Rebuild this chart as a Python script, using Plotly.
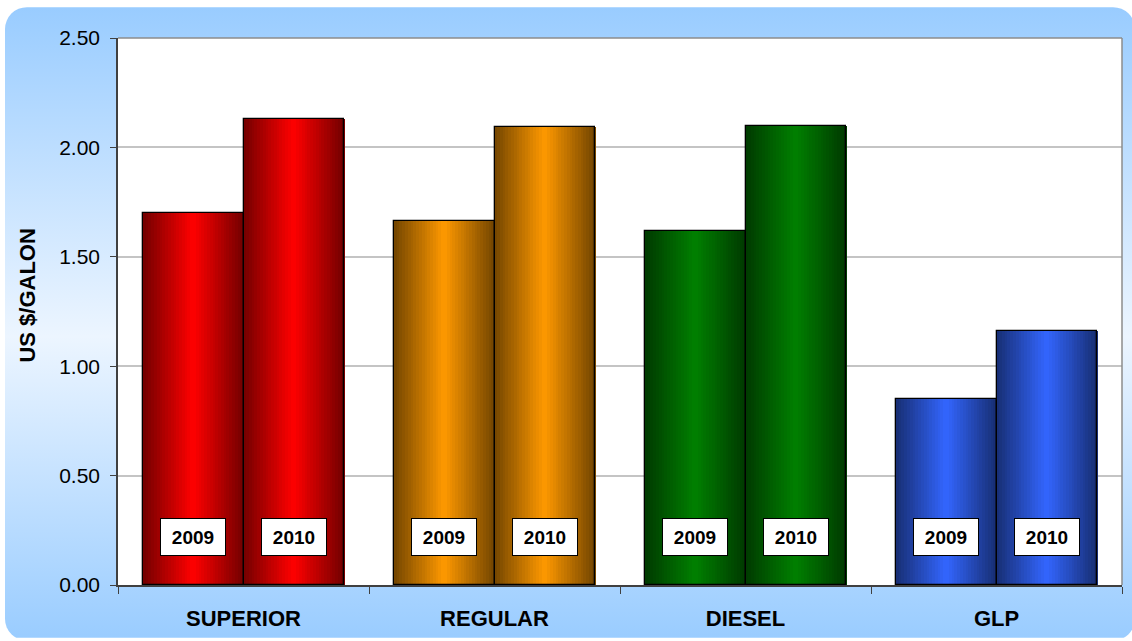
import base64
import plotly.graph_objects as go

# ---------------- data ----------------
categories = ["SUPERIOR", "REGULAR", "DIESEL", "GLP"]
years = ["2009", "2010"]
values_2009 = [1.70, 1.665, 1.62, 0.848]
values_2010 = [2.128, 2.092, 2.10, 1.162]
y_ticks = [0.0, 0.5, 1.0, 1.5, 2.0, 2.5]
y_title = "US $/GALON"
label_level = 0.22

# ---------------- style ----------------
W, H = 1132, 641
ML, MR, MT, MB = 118, 10, 38, 53
PW, PH = W - ML - MR, H - MT - MB
bright = [(255, 0, 0), (255, 153, 0), (0, 128, 0), (51, 102, 255)]
DARK_F = 0.45
N = 36
HALF = 0.4
FONT = "Arial, Liberation Sans, sans-serif"


def shade(rgb, t):
    g = 1 - abs(2 * t - 1)
    f = DARK_F + (1 - DARK_F) * g
    r, gg, b = (int(round(c * f)) for c in rgb)
    return f"rgb({r},{gg},{b})"


fig = go.Figure()
series = [values_2009, values_2010]
offsets = [-HALF, 0.0]
for vals, off in zip(series, offsets):
    sw = HALF / N
    for i in range(N):
        t = (i + 0.5) / N
        fig.add_trace(go.Bar(
            x=categories, y=vals,
            width=sw * 1.35, offset=off + i * sw - sw * 0.1,
            marker=dict(color=[shade(c, t) for c in bright], line=dict(width=0)),
            showlegend=False, hoverinfo="skip",
        ))
    fig.add_trace(go.Bar(
        x=categories, y=vals, width=HALF, offset=off,
        marker=dict(color="rgba(0,0,0,0)", line=dict(color="#000000", width=1.3)),
        showlegend=False,
    ))

# year labels
for ci, cat in enumerate(categories):
    for yi, yr in enumerate(years):
        fig.add_annotation(
            x=ci + offsets[yi] + HALF / 2, y=label_level, xref="x", yref="y",
            text=yr, showarrow=False,
            font=dict(family=FONT, size=19, color="black", weight="bold"),
            bgcolor="white", bordercolor="black", borderwidth=1, borderpad=8,
            width=48, height=20,
        )

# y title
fig.add_annotation(
    x=(28 - ML) / PW, y=(H - MB - 297) / PH, xref="paper", yref="paper",
    text=y_title, textangle=-90, showarrow=False,
    font=dict(family=FONT, size=22, color="black", weight="bold"),
    xanchor="center", yanchor="middle",
)

# background rounded panel with vertical gradient
svg = f'''<svg xmlns="http://www.w3.org/2000/svg" width="{W}" height="{H}" viewBox="0 0 {W} {H}">
<defs><linearGradient id="g" x1="0" y1="0" x2="0" y2="1">
<stop offset="0" stop-color="#99CCFF"/><stop offset="0.52" stop-color="#ECF5FF"/>
<stop offset="1" stop-color="#99CCFF"/></linearGradient></defs>
<rect x="0" y="0" width="{W}" height="{H}" fill="white"/>
<rect x="5" y="7" width="1130" height="{H-4}" rx="22" ry="22" fill="url(#g)"/>
<rect x="{ML}" y="{MT}" width="{PW}" height="{PH}" fill="white"/>
</svg>'''
src = "data:image/svg+xml;base64," + base64.b64encode(svg.encode()).decode()
fig.add_layout_image(
    source=src, xref="paper", yref="paper",
    x=-ML / PW, y=1 + MT / PH, sizex=W / PW, sizey=H / PH,
    xanchor="left", yanchor="top", sizing="stretch", layer="below",
)

# plot frame (top/right gray)
fig.add_shape(type="line", xref="paper", yref="paper", x0=0, x1=1, y0=1, y1=1,
              line=dict(color="#8C8C8C", width=1.5))
fig.add_shape(type="line", xref="paper", yref="paper", x0=1, x1=1, y0=0, y1=1,
              line=dict(color="#8C8C8C", width=1.5))

fig.update_layout(
    width=W, height=H,
    margin=dict(l=ML, r=MR, t=MT, b=MB, pad=0),
    paper_bgcolor="white", plot_bgcolor="white",
    barmode="overlay", bargap=0,
    font=dict(family=FONT, color="black"),
)
fig.update_xaxes(
    type="category", range=[-0.5, 3.5],
    showline=True, linecolor="#404040", linewidth=1.5,
    ticks="outside", tickson="boundaries", ticklen=7, tickcolor="#404040",
    tickfont=dict(family=FONT, size=22, color="black", weight="bold"),
    ticklabelstandoff=13, showgrid=False,
)
fig.update_yaxes(
    range=[0, 2.5], tickvals=y_ticks, tickformat=".2f",
    showline=True, linecolor="#404040", linewidth=1.5,
    ticks="outside", ticklen=6, tickcolor="#404040",
    tickfont=dict(family=FONT, size=21, color="black"),
    ticklabelstandoff=6,
    showgrid=True, gridcolor="#C4C4C4", gridwidth=1.5, zeroline=False,
)

fig.write_html(
    "out.html",
    config={"displayModeBar": False},
    post_script="document.body.style.margin='0px';document.body.style.overflow='hidden';",
)
